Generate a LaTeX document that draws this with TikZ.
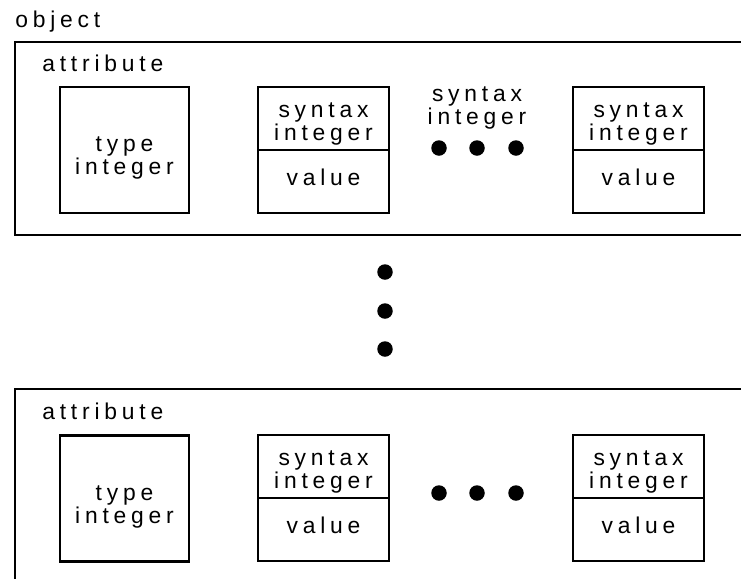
\documentclass[tikz,border=0pt]{standalone}
\usepackage{fontspec}
\setmainfont{Liberation Sans}
\newfontfamily\spacedfont[LetterSpace=21]{Liberation Sans}
\usetikzlibrary{positioning}

\tikzset{
  txt/.style={font={\spacedfont\fontsize{13}{13}\selectfont}, inner sep=0pt, align=center},
  typebox/.style={draw, line width=1.4pt, outer sep=0pt, minimum width=2.58cm, minimum height=2.52cm},
  synbox/.style={draw, line width=1.4pt, outer sep=0pt, minimum width=2.62cm, minimum height=1.26cm},
  dot/.style={circle, fill=black, inner sep=0pt, minimum size=0.31cm}
}

% one "syntax integer / value" pair: name, centre x, top y
\newcommand{\synpair}[3]{
  \node[synbox, anchor=north] (#1syn) at (#2,#3) {};
  \node[synbox, below=0pt of #1syn] (#1val) {};
  \node[txt] (#1syntxt) at (#2,{#3+37.2}) {syntax\\integer};
  \node[txt] (#1valtxt) at (#2,{#3+90.8}) {value};
}

\begin{document}
\begin{tikzpicture}[x=0.02cm,y=-0.02cm]
    \useasboundingbox (0,0) rectangle (741,579);

    \node[txt, anchor=base west] (obj) at (15,27.7) {object};

    % first attribute
    \draw[line width=1.4pt] (741,42) -- (15,42) -- (15,235) -- (741,235);
    \node[txt, anchor=base west] (attrA) at (42,71.7) {attribute};
    \node[typebox] (typeA) at (124.5,150) {};
    \node[txt] (typeAtxt) at (124.5,158.2) {type\\integer};
    \synpair{A1}{323.5}{87}
    \node[txt] (synA2) at (477,108) {syntax\\integer};
    \node[dot] (dA1) at (439,148) {};
    \node[dot] (dA2) at (477,148) {};
    \node[dot] (dA3) at (516,148) {};
    \synpair{A3}{638.5}{87}

    % more attributes
    \node[dot] (v1) at (385,272) {};
    \node[dot] (v2) at (385,311) {};
    \node[dot] (v3) at (385,349) {};

    % last attribute
    \draw[line width=1.4pt] (741,389) -- (15,389) -- (15,579);
    \node[txt, anchor=base west] (attrB) at (42,419.3) {attribute};
    \node[typebox] (typeB) at (124.5,498.5) {};
    \node[txt] (typeBtxt) at (124.5,506.7) {type\\integer};
    \synpair{B1}{323.5}{435}
    \node[dot] (dB1) at (439,493) {};
    \node[dot] (dB2) at (477,493) {};
    \node[dot] (dB3) at (516,493) {};
    \synpair{B3}{638.5}{435}
\end{tikzpicture}
\end{document}
